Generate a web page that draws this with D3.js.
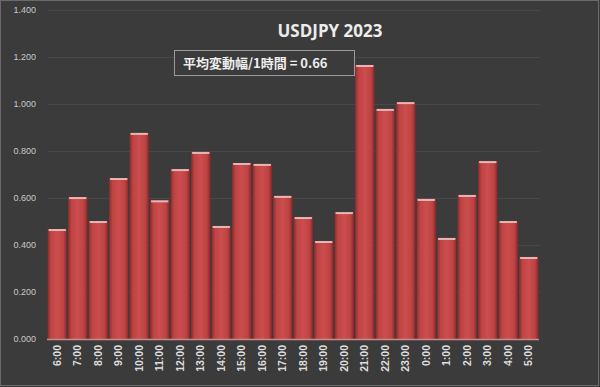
<!DOCTYPE html>
<html>
<head>
<meta charset="utf-8">
<script src="https://cdn.jsdelivr.net/npm/d3@7"></script>
<style>
  body { margin: 0; background: #3b3b3b; }
  svg { display: block; }
</style>
</head>
<body>
<svg width="600" height="387"></svg>
<script>
// hourly average range, USDJPY 2023
const hours = ["6:00","7:00","8:00","9:00","10:00","11:00","12:00","13:00","14:00","15:00","16:00","17:00",
    "18:00","19:00","20:00","21:00","22:00","23:00","0:00","1:00","2:00","3:00","4:00","5:00"];
const ranges = [0.468,0.604,0.502,0.685,0.877,0.590,0.723,0.796,0.481,0.749,0.745,0.609,
    0.519,0.417,0.540,1.166,0.979,1.008,0.596,0.430,0.613,0.757,0.502,0.349];
const yTicks = [0, 0.2, 0.4, 0.6, 0.8, 1.0, 1.2, 1.4];
const title = "USDJPY 2023";
const note = "平均変動幅/1時間 = 0.66";

const svg = d3.select("svg"),
    width = +svg.attr("width"),
    height = +svg.attr("height");

svg.append("rect")
    .attr("x", 0.5).attr("y", 0.5)
    .attr("width", width - 2).attr("height", height - 2)
    .attr("fill", "#3b3b3b")
    .attr("stroke", "#6a6a6a");

const x = d3.scaleBand().domain(hours).range([47, 539]).paddingInner(0.06).paddingOuter(0.03);
const y = d3.scaleLinear().domain([0, 1.4]).range([339, 10]);

const defs = svg.append("defs");
const grad = defs.append("linearGradient").attr("id", "barGrad")
    .attr("x1", "0%").attr("x2", "100%").attr("y1", "0%").attr("y2", "0%");
grad.append("stop").attr("offset", "0%").attr("stop-color", "#8e2c2c");
grad.append("stop").attr("offset", "18%").attr("stop-color", "#bf4444");
grad.append("stop").attr("offset", "50%").attr("stop-color", "#cc4d4d");
grad.append("stop").attr("offset", "82%").attr("stop-color", "#bd4343");
grad.append("stop").attr("offset", "100%").attr("stop-color", "#862a2a");

// grid lines
svg.append("g")
    .selectAll("line")
    .data(yTicks.slice(1))
    .enter().append("line")
    .attr("x1", 48).attr("x2", 540)
    .attr("y1", d => Math.round(y(d)) + 0.5)
    .attr("y2", d => Math.round(y(d)) + 0.5)
    .style("stroke", "#484848")
    .style("stroke-width", "1px");

// y axis labels
const yAxis = svg.append("g")
    .attr("transform", "translate(36,0)")
    .call(d3.axisLeft(y).tickValues(yTicks).tickFormat(d3.format(".3f")).tickSize(0).tickPadding(0));
yAxis.select(".domain").remove();
yAxis.selectAll("text")
    .style("font-family", "'Liberation Sans', Arial, sans-serif")
    .style("font-size", "9px")
    .style("fill", "#c8c8c8");

// bars
const bars = svg.append("g")
    .selectAll("g")
    .data(hours.map((h, i) => ({ hour: h, value: ranges[i] })))
    .enter().append("g");

bars.append("rect")
    .attr("x", d => x(d.hour))
    .attr("y", d => y(d.value))
    .attr("width", x.bandwidth())
    .attr("height", d => y(0) - y(d.value))
    .attr("fill", "url(#barGrad)");

bars.append("rect")
    .attr("x", d => x(d.hour) + 1)
    .attr("y", d => y(d.value))
    .attr("width", x.bandwidth() - 2)
    .attr("height", 2)
    .attr("fill", "#e9b4b4");

// floor line
svg.append("line")
    .attr("x1", 47).attr("x2", 539)
    .attr("y1", y(0) + 0.5).attr("y2", y(0) + 0.5)
    .style("stroke", "#c98a8a")
    .style("stroke-width", "1.5px");

// x labels, rotated
svg.append("g")
    .selectAll("text")
    .data(hours)
    .enter().append("text")
    .attr("transform", d => `translate(${x(d) + x.bandwidth() / 2 + 3.5},345) rotate(-90)`)
    .style("text-anchor", "end")
    .style("font-family", "'Liberation Sans', Arial, sans-serif")
    .style("font-size", "10.5px")
    .style("font-weight", "bold")
    .style("fill", "#dedede")
    .text(d => d);

// title
svg.append("text")
    .attr("x", 330).attr("y", 37)
    .style("text-anchor", "middle")
    .style("font-family", "'Open Sans', 'Liberation Sans', sans-serif")
    .style("font-size", "17px")
    .style("font-weight", "bold")
    .style("fill", "#ececec")
    .text(title);

// note box
svg.append("rect")
    .attr("x", 174.5).attr("y", 50.5)
    .attr("width", 180).attr("height", 25)
    .attr("fill", "#3b3b3b")
    .attr("stroke", "#9a9a9a");

svg.append("text")
    .attr("x", 183).attr("y", 68)
    .style("font-family", "'Noto Sans CJK JP', sans-serif")
    .style("font-size", "13px")
    .style("font-weight", "bold")
    .style("fill", "#eeeeee")
    .style("white-space", "pre")
    .text(note);
</script>
</body>
</html>
